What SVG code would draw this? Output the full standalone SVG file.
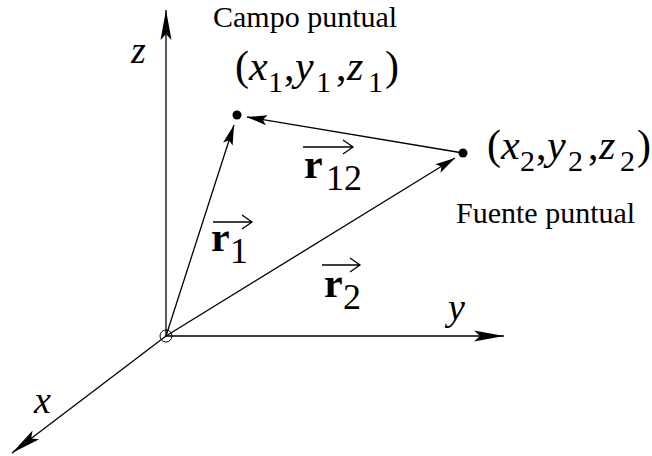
<svg xmlns="http://www.w3.org/2000/svg" width="652" height="456" viewBox="0 0 652 456">
<style>
.ln{stroke:#000;stroke-width:1.3;fill:none}
.t{font-family:"Liberation Serif","Times New Roman",serif;fill:#000}
.it{font-style:italic}
.b{font-weight:bold}
.tp{font-size:42px}
.sb{font-size:30px}
.rl{font-size:42px}
.rs{font-size:36px}
</style>
<defs>
<marker id="ax" markerUnits="userSpaceOnUse" markerWidth="34" markerHeight="14" viewBox="-32 -7 34 14" refX="0" refY="0" orient="auto">
<path d="M0,0 L-30,-5.5 L-24,0 L-30,5.5 Z" fill="#000"/>
</marker>
<marker id="vc" markerUnits="userSpaceOnUse" markerWidth="24" markerHeight="12" viewBox="-22 -6 24 12" refX="0" refY="0" orient="auto">
<path d="M0,0 L-20,-5 L-16,0 L-20,5 Z" fill="#000"/>
</marker>
</defs>
<rect width="652" height="456" fill="#fff"/>
<g id="connectors">
<line class="ln" x1="166" y1="336" x2="166" y2="10" marker-end="url(#ax)"/>
<line class="ln" x1="166" y1="336" x2="504" y2="336" marker-end="url(#ax)"/>
<line class="ln" x1="166" y1="336" x2="12" y2="453" marker-end="url(#ax)"/>
<line class="ln" x1="166" y1="336" x2="234" y2="125" marker-end="url(#vc)"/>
<line class="ln" x1="166" y1="336" x2="455" y2="158" marker-end="url(#vc)"/>
<line class="ln" x1="463" y1="153" x2="247" y2="117" marker-end="url(#vc)"/>
</g>
<g id="origin">
<circle cx="166" cy="336" r="6" fill="none" stroke="#000" stroke-width="1"/>
</g>
<g id="axis-z"><text class="t it" x="131" y="63" font-size="38">z</text></g>
<g id="axis-y"><text class="t it" x="448" y="320" font-size="38">y</text></g>
<g id="axis-x"><text class="t it" x="34" y="413" font-size="38">x</text></g>
<g id="point1">
<circle cx="237" cy="115" r="4.5" fill="#000"/>
<text class="t" x="213" y="27" font-size="30">Campo puntual</text>
<text class="t tp"><tspan x="235" y="80">(</tspan><tspan class="it" x="249" y="80">x</tspan><tspan class="sb" x="268" y="92">1</tspan><tspan x="284" y="80">,</tspan><tspan class="it" x="295" y="80">y</tspan><tspan class="sb" x="316" y="92">1</tspan><tspan x="336" y="80">,</tspan><tspan class="it" x="347" y="80">z</tspan><tspan class="sb" x="368" y="92">1</tspan><tspan x="385" y="80">)</tspan></text>
</g>
<g id="point2">
<circle cx="463" cy="153" r="4.5" fill="#000"/>
<text class="t tp"><tspan x="487" y="159">(</tspan><tspan class="it" x="501" y="159">x</tspan><tspan class="sb" x="520" y="171">2</tspan><tspan x="536" y="159">,</tspan><tspan class="it" x="547" y="159">y</tspan><tspan class="sb" x="568" y="171">2</tspan><tspan x="588" y="159">,</tspan><tspan class="it" x="599" y="159">z</tspan><tspan class="sb" x="620" y="171">2</tspan><tspan x="637" y="159">)</tspan></text>
<text class="t" x="456" y="223" font-size="30">Fuente puntual</text>
</g>
<g id="label-r1">
<path class="ln" d="M213,222 H252 M242,215 L252,222 L242,229"/>
<text class="t"><tspan class="b rl" x="211" y="251">r</tspan><tspan class="rs" x="230" y="263">1</tspan></text>
</g>
<g id="label-r2">
<path class="ln" d="M322,265 H360 M350,258 L360,265 L350,272"/>
<text class="t"><tspan class="b rl" x="324" y="297">r</tspan><tspan class="rs" x="343" y="309">2</tspan></text>
</g>
<g id="label-r12">
<path class="ln" d="M303,147 H353 M343,140 L353,147 L343,154"/>
<text class="t"><tspan class="b rl" x="304" y="178">r</tspan><tspan class="rs" x="326" y="190">12</tspan></text>
</g>
</svg>
